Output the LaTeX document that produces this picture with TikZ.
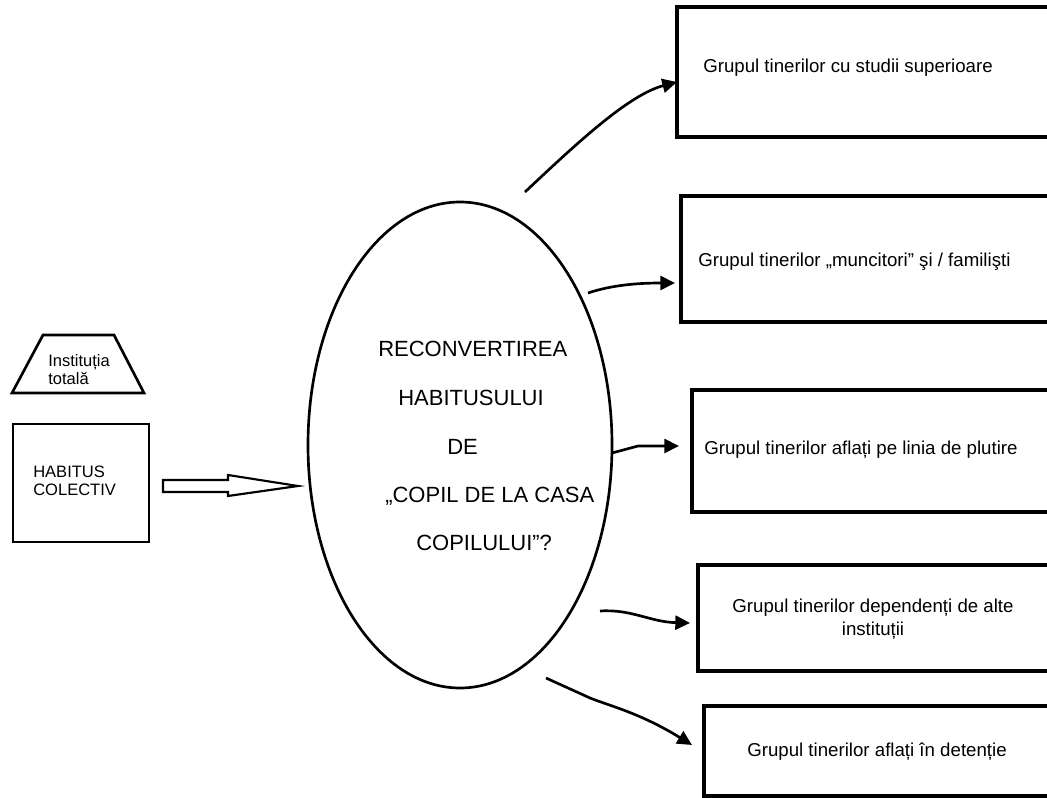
\documentclass[tikz,border=0pt]{standalone}
\usepackage{fontspec}
\setmainfont{Liberation Sans}
\usetikzlibrary{arrows.meta,shapes.geometric,calc}
\begin{document}
\begin{tikzpicture}[x=0.75pt,y=-0.75pt,
  grp/.style={draw,line width=2.3pt,rectangle,anchor=north west,inner sep=0pt,outer sep=0pt},
  gtext/.style={anchor=base west,inner sep=0pt,font=\fontsize{14}{16.5}\selectfont},
  gctext/.style={anchor=base,inner sep=0pt,font=\fontsize{14}{16.5}\selectfont},
  etext/.style={anchor=base west,inner sep=0pt,font=\fontsize{16.5}{19}\selectfont},
  ltext/.style={anchor=base west,inner sep=0pt,font=\fontsize{12.4}{14}\selectfont},
  conn/.style={line width=2pt,-{Triangle[length=11pt,width=10.5pt]}}]
\useasboundingbox (0,0) rectangle (1047,798);
\fill[white] (0,0) rectangle (1047,798);
\clip (0,0) rectangle (1047,798);

% left side
\draw[line width=2pt,line join=miter] (12,393) -- (43,335) -- (114,335) -- (144,393) -- cycle;
\node[ltext] (inst1) at (48,367) {Instituția};
\node[ltext] (inst2) at (48,385) {totală};
\node[grp,line width=2pt,minimum width=102pt,minimum height=88.5pt] (hab) at (13,424) {};
\node[ltext] (hab1) at (33,478) {HABITUS};
\node[ltext] (hab2) at (33,496) {COLECTIV};
\draw[line width=1.6pt,line join=miter] (163,480) -- (228,480) -- (228,475) -- (298,486) -- (228,496) -- (228,492) -- (163,492) -- cycle;

% ellipse
\node[draw,ellipse,line width=2pt,minimum width=228pt,minimum height=364.5pt,inner sep=0pt] (el) at (460,445) {};
\node[etext] (e1) at (378,357) {RECONVERTIREA};
\node[etext] (e2) at (398,406) {HABITUSULUI};
\node[etext] (e3) at (447,455) {DE};
\node[etext] (e4) at (385,503) {„COPIL DE LA CASA};
\node[etext] (e5) at (416,551) {COPILULUI”?};

% right boxes
\node[grp,minimum width=317.25pt,minimum height=97.5pt] (b1) at (677,7) {};
\node[grp,minimum width=314.25pt,minimum height=94.5pt] (b2) at (681,196) {};
\node[grp,minimum width=306pt,minimum height=91.5pt] (b3) at (692,390) {};
\node[grp,minimum width=301.5pt,minimum height=79.5pt] (b4) at (698,565) {};
\node[grp,minimum width=297pt,minimum height=67.5pt] (b5) at (704,706) {};

\node[gtext] (t1) at (703,73) {Grupul tinerilor cu studii superioare};
\node[gtext] (t2) at (698,267) {Grupul tinerilor „muncitori” şi / familişti};
\node[gtext] (t3) at (704,455) {Grupul tinerilor aflați pe linia de plutire};
\node[gctext] (t4a) at (873,613) {Grupul tinerilor dependenți de alte};
\node[gctext] (t4b) at (873,635) {instituții};
\node[gctext] (t5) at (877,756) {Grupul tinerilor aflați în detenție};

% connectors
\coordinate (s1) at (525,192);
\coordinate (s2) at (588,293);
\coordinate (s3) at (612,453);
\coordinate (s4) at (600,611);
\coordinate (s5) at (546,678);
\coordinate (e1t) at (677,82);
\coordinate (e2t) at (675,283);
\coordinate (e3t) at (679,446);
\coordinate (e4t) at (690,623);
\coordinate (e5t) at (692,745);
\draw[conn] (s1) .. controls (575,145) and (628,95) .. (e1t);
\draw[conn] (s2) .. controls (612,285) and (638,283) .. (e2t);
\draw[conn] (s3) -- (638,446) -- (e3t);
\draw[conn] (s4) .. controls (632,609) and (650,622) .. (e4t);
\draw[conn] (s5) -- (590,698) .. controls (610,706) and (640,713) .. (e5t);
\end{tikzpicture}
\end{document}
